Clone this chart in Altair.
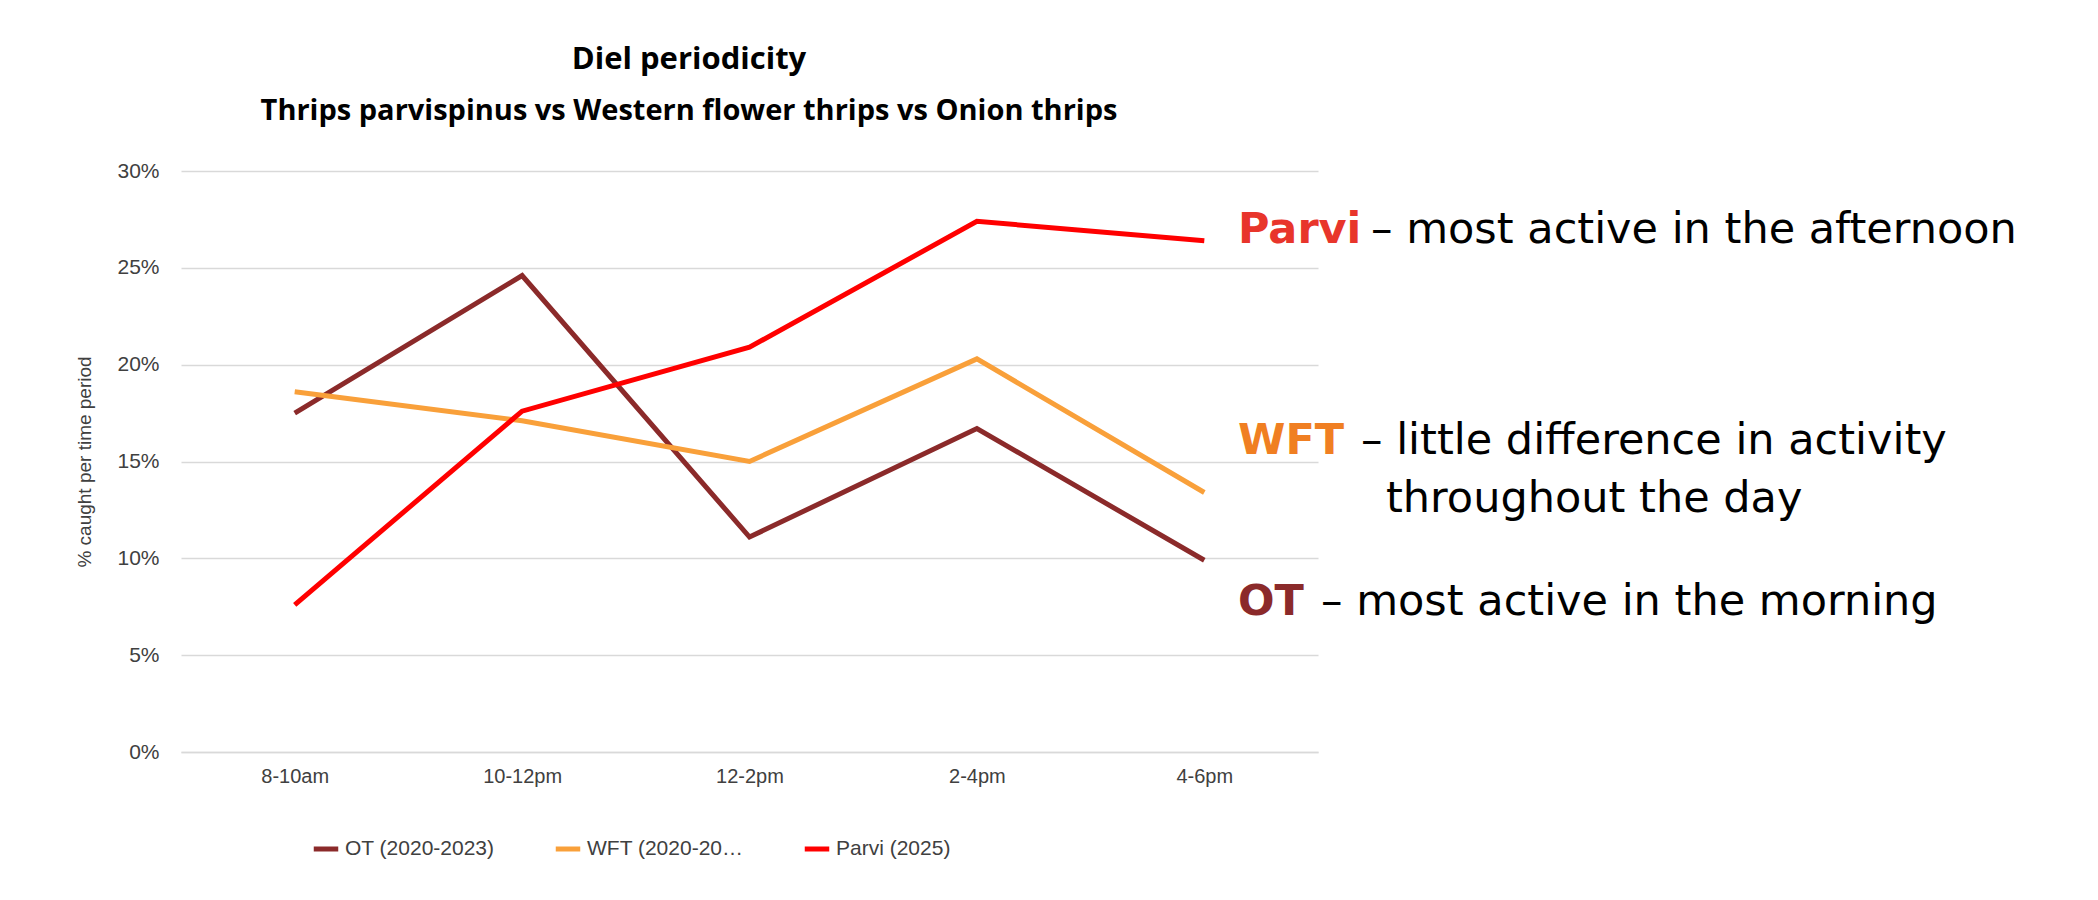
import pandas as pd
import altair as alt

periods = ["8-10am", "10-12pm", "12-2pm", "2-4pm", "4-6pm"]
ot = [17.5, 24.6, 11.1, 16.7, 9.9]
wft = [18.6, 17.1, 15.0, 20.3, 13.4]
parvi = [7.6, 17.6, 20.9, 27.4, 26.4]
series = ["OT (2020-2023)", "WFT (2020-2023)", "Parvi (2025)"]
colors = ["#8b2a2a", "#f9a03a", "#ff0000"]

rows = []
for name, vals in zip(series, [ot, wft, parvi]):
    for p, v in zip(periods, vals):
        rows.append({"period": p, "series": name, "pct": v / 100})
df = pd.DataFrame(rows)

W, H = 1137, 581
font = "Liberation Sans"

lines = alt.Chart(df).mark_line(strokeWidth=5).encode(
    x=alt.X("period:N", sort=periods, title=None,
            scale=alt.Scale(paddingOuter=0.5, paddingInner=0),
            axis=alt.Axis(labelAngle=0, labelFontSize=20, labelColor="#404040",
                          labelPadding=14, ticks=False, domainColor="#d9d9d9",
                          domainWidth=1.5, grid=False, labelFont=font)),
    y=alt.Y("pct:Q", title="% caught per time period",
            scale=alt.Scale(domain=[0, 0.3]),
            axis=alt.Axis(format=".0%", values=[0, .05, .1, .15, .2, .25, .3],
                          labelOverlap=False,
                          labelFontSize=21, labelColor="#404040", ticks=False,
                          domain=False, gridColor="#d9d9d9", gridWidth=1.5,
                          titleFontSize=19, titleFontWeight="normal", titleColor="#404040",
                          titlePadding=22, labelPadding=22, labelFont=font, titleFont=font)),
    color=alt.Color("series:N", sort=series,
                    scale=alt.Scale(domain=series, range=colors),
                    legend=alt.Legend(title=None, orient="none", direction="horizontal",
                                      legendX=130, legendY=H + 82, symbolType="stroke",
                                      symbolStrokeWidth=5, symbolSize=600,
                                      labelFontSize=21, labelColor="#404040",
                                      columnPadding=50, labelFont=font)),
)

notes = pd.DataFrame([
    {"t": "Diel periodicity", "x": 508, "y": -111, "s": 31, "w": "bold", "c": "black", "a": "center"},
    {"t": "Thrips parvispinus vs Western flower thrips vs Onion thrips", "x": 508, "y": -60, "s": 29, "w": "bold", "c": "black", "a": "center"},
    {"t": "Parvi", "x": 1057, "y": 59, "s": 43, "w": "bold", "c": "#e8352b", "a": "left"},
    {"t": "\u2013 most active in the afternoon", "x": 1190, "y": 59, "s": 43, "w": "normal", "c": "black", "a": "left"},
    {"t": "WFT", "x": 1057, "y": 270, "s": 43, "w": "bold", "c": "#f07f22", "a": "left"},
    {"t": "\u2013 little difference in activity", "x": 1180, "y": 270, "s": 43, "w": "normal", "c": "black", "a": "left"},
    {"t": "throughout the day", "x": 1205, "y": 328, "s": 43, "w": "normal", "c": "black", "a": "left"},
    {"t": "OT", "x": 1057, "y": 431, "s": 43, "w": "bold", "c": "#8b2a2a", "a": "left"},
    {"t": "\u2013 most active in the morning", "x": 1140, "y": 431, "s": 43, "w": "normal", "c": "black", "a": "left"},
])

layers = []
for _, r in notes.iterrows():
    layers.append(alt.Chart(pd.DataFrame([r])).mark_text(
        align=r["a"], baseline="middle", fontSize=int(r["s"]), fontWeight=r["w"],
        color=r["c"], font="Open Sans" if r["s"] < 40 else "DejaVu Sans"
    ).encode(x=alt.value(int(r["x"])), y=alt.value(int(r["y"])), text="t:N"))

chart = alt.layer(lines, *layers).properties(
    width=W, height=H,
    autosize=alt.AutoSizeParams(type="none"),
    padding={"left": 173, "top": 163, "right": 760, "bottom": 130},
).configure_view(stroke=None)

chart.save("out.html", embed_options={"renderer": "svg", "actions": False})
